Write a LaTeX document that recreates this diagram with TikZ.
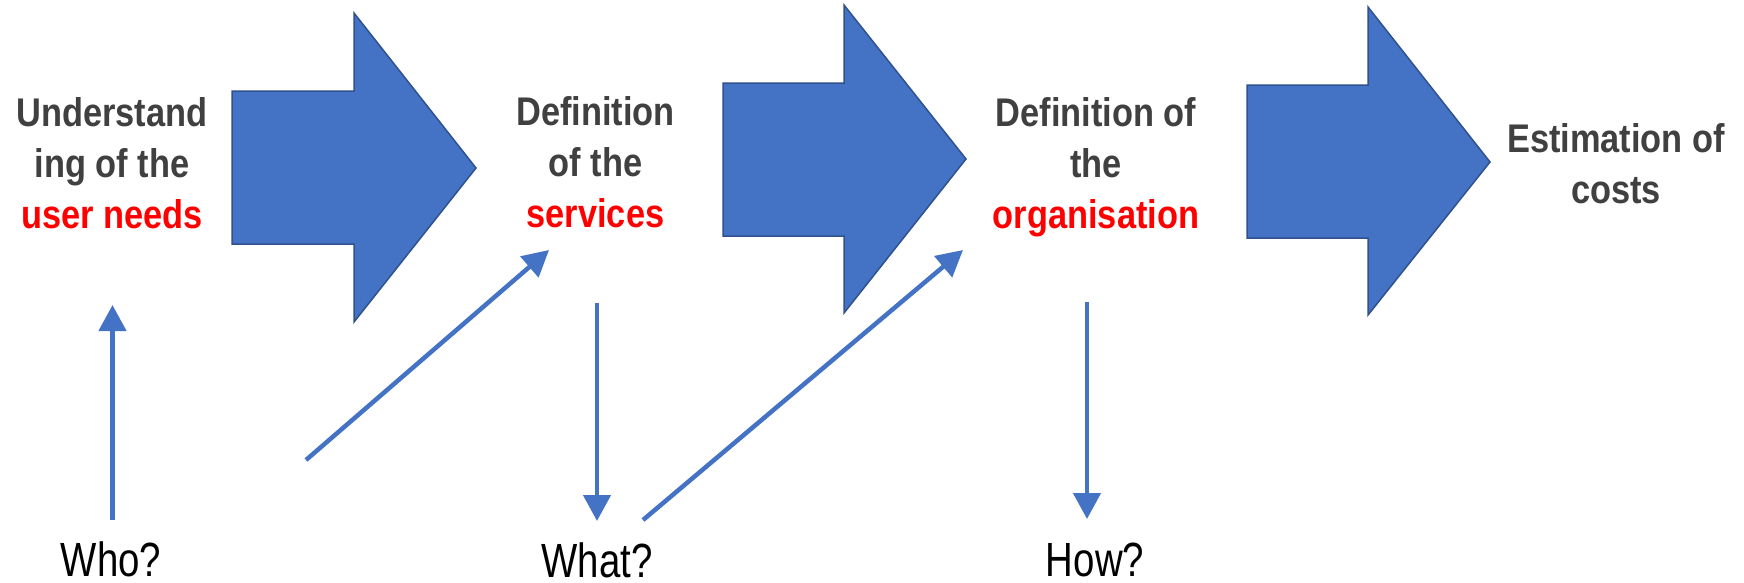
\documentclass[tikz,border=0pt]{standalone}
\usepackage{fontspec}
\usetikzlibrary{arrows.meta}
\newfontfamily\lblfont[FakeStretch=0.86]{Liberation Sans}
\newfontfamily\qfont[FakeStretch=0.8]{Liberation Sans}
\definecolor{arrowblue}{HTML}{4472C4}
\definecolor{arrowedge}{HTML}{2F528F}
\definecolor{lblgray}{HTML}{404040}
\definecolor{lblred}{HTML}{FF0000}
\begin{document}
\begin{tikzpicture}[x=1pt,y=-1pt,
  bigarrow/.style={fill=arrowblue,draw=arrowedge,line width=1.5pt,line join=miter},
  stage/.style={font=\lblfont\bfseries\fontsize{40}{51}\selectfont,text=lblgray,align=center,anchor=base,inner sep=0pt},
  question/.style={font=\qfont\fontsize{48}{56}\selectfont,text=black,anchor=base,inner sep=0pt,text depth=0pt},
  link/.style={draw=arrowblue,line width=4.5pt,-{Triangle[width=27pt,length=26pt]}}
]
\useasboundingbox (0,0) rectangle (1744,582);
\fill[white] (0,0) rectangle (1744,582);

% big block arrows
\draw[bigarrow] (232,91) -- (354,91) -- (354,13) -- (476,168) -- (354,322) -- (354,244) -- (232,244) -- cycle;
\draw[bigarrow] (723,83) -- (844,83) -- (844,5) -- (966,159) -- (844,313) -- (844,236) -- (723,236) -- cycle;
\draw[bigarrow] (1247,85) -- (1368,85) -- (1368,7) -- (1490,162) -- (1368,315) -- (1368,238) -- (1247,238) -- cycle;

% stage labels (anchor = baseline of the last line)
\node[stage] (needs) at (112,228) {Understand\\ing of the\\\textcolor{lblred}{user needs}};
\node[stage] (services) at (595.5,227) {Definition\\of the\\\textcolor{lblred}{services}};
\node[stage] (organisation) at (1096,228) {Definition of\\the\\\textcolor{lblred}{organisation}};
\node[stage] (costs) at (1616,203) {Estimation of\\costs};

% questions
\node[question] (who) at (111,576) {Who?};
\node[question] (what) at (597,577) {What?};
\node[question] (how) at (1095,576) {How?};

% connector end points
\coordinate (who-top) at (112.5,520);
\coordinate (needs-bottom) at (112.5,305);
\coordinate (who-diag) at (306,460);
\coordinate (services-tip) at (549,250);
\coordinate (services-bottom) at (597,303);
\coordinate (what-top) at (597,521);
\coordinate (what-diag) at (643,520);
\coordinate (organisation-tip) at (963,250);
\coordinate (organisation-bottom) at (1087,302);
\coordinate (how-top) at (1087,519);

\draw[link] (who-top) -- (needs-bottom);
\draw[link] (who-diag) -- (services-tip);
\draw[link] (services-bottom) -- (what-top);
\draw[link] (what-diag) -- (organisation-tip);
\draw[link] (organisation-bottom) -- (how-top);
\end{tikzpicture}
\end{document}
